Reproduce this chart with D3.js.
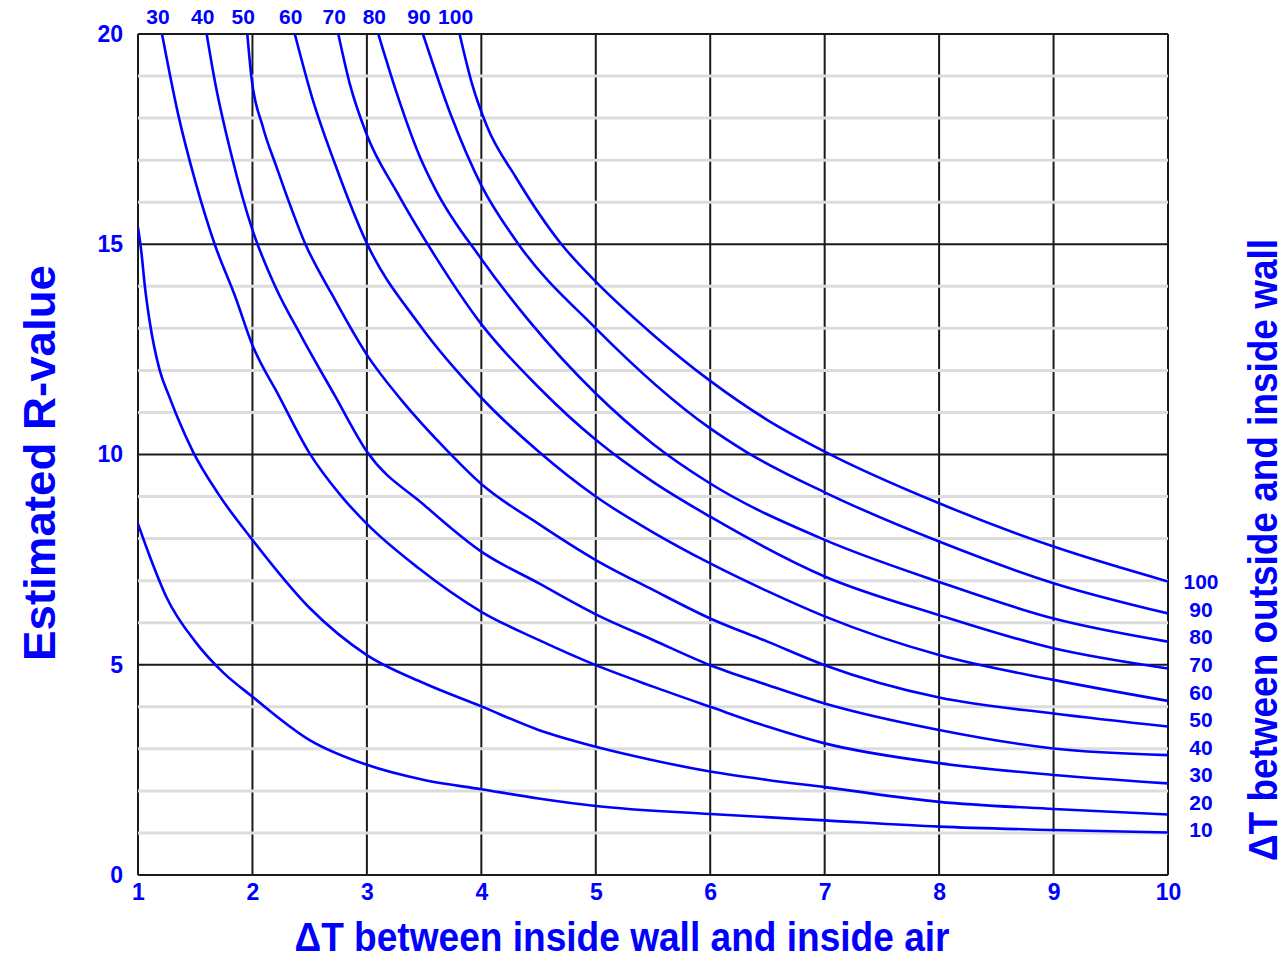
<!DOCTYPE html>
<html>
<head>
<meta charset="utf-8">
<script src="https://cdn.jsdelivr.net/npm/d3@7"></script>
<style>
  body { margin: 0; background: #fff; }
  svg text { font-family: "Liberation Sans", Arial, sans-serif; font-weight: bold; fill: #0000ff; }
</style>
</head>
<body>
<svg id="chart" width="1287" height="961"></svg>
<script>
// axis ticks
const xTicks = [1, 2, 3, 4, 5, 6, 7, 8, 9, 10];
const yTicks = [0, 5, 10, 15, 20];

// ΔT between outside and inside wall, one curve each
const curveLabels = [10, 20, 30, 40, 50, 60, 70, 80, 90, 100];

// [ΔT inside wall/air, estimated R-value]
const r10 = [[1, 8.35], [1.1, 7.6], [1.25, 6.6], [1.5, 5.55], [1.75, 4.8], [2, 4.24], [2.5, 3.21], [3, 2.62], [3.5, 2.26], [4, 2.04], [4.5, 1.82], [5, 1.64], [6, 1.45], [7, 1.3], [8, 1.15], [9, 1.07], [10, 1.01]];
const r20 = [[1, 15.4], [1.03, 14.8], [1.06, 14.0], [1.1, 13.2], [1.19, 12.0], [1.27, 11.4], [1.35, 10.85], [1.48, 10.07], [1.7, 9.07], [2, 7.97], [2.5, 6.35], [3, 5.23], [3.5, 4.56], [4, 4.01], [4.5, 3.45], [5, 3.05], [5.5, 2.73], [6, 2.46], [6.5, 2.26], [7, 2.09], [8, 1.74], [9, 1.57], [10, 1.44]];
const r30 = [[1.21, 20], [1.35, 18.1], [1.5, 16.5], [1.67, 15.0], [1.85, 13.75], [2, 12.6], [2.23, 11.4], [2.49, 10.07], [2.78, 9.0], [3, 8.35], [3.45, 7.3], [4, 6.26], [4.5, 5.59], [5, 4.99], [5.5, 4.48], [6, 4.0], [6.5, 3.53], [7, 3.13], [8, 2.66], [9, 2.38], [10, 2.18]];
const r40 = [[1.6, 20], [1.67, 18.9], [1.82, 17.08], [2, 15.34], [2.2, 13.99], [2.43, 12.8], [2.72, 11.4], [3, 10.07], [3.5, 8.8], [4, 7.69], [4.5, 6.94], [5, 6.2], [5.5, 5.59], [6, 4.99], [6.5, 4.52], [7, 4.08], [8, 3.45], [9, 3.01], [10, 2.85]];
const r50 = [[1.955, 20], [1.99, 19.0], [2.09, 17.8], [2.21, 16.84], [2.28, 16.3], [2.46, 15.02], [2.69, 13.83], [3, 12.37], [3.3, 11.3], [3.71, 10.07], [4, 9.3], [4.5, 8.35], [5, 7.49], [5.5, 6.78], [6, 6.1], [6.5, 5.55], [7, 4.99], [8, 4.22], [9, 3.84], [10, 3.53]];
const r60 = [[2.37, 20], [2.52, 18.5], [2.72, 16.92], [3, 15.02], [3.45, 13.12], [4, 11.35], [4.5, 10.07], [5, 9.0], [5.5, 8.15], [6, 7.41], [6.5, 6.75], [7, 6.15], [8, 5.23], [9, 4.64], [10, 4.14]];
const r70 = [[2.75, 20], [2.85, 18.82], [3, 17.6], [3.26, 16.25], [3.6, 14.7], [4, 13.1], [4.5, 11.6], [5, 10.35], [5.5, 9.35], [6, 8.52], [7, 7.1], [8, 6.18], [9, 5.39], [10, 4.91]];
const r80 = [[3.1, 20], [3.26, 18.6], [3.46, 17.1], [3.6, 16.3], [4, 14.65], [4.41, 13.2], [5, 11.45], [5.5, 10.25], [6, 9.31], [7, 7.97], [8, 6.97], [9, 6.1], [10, 5.55]];
const r90 = [[3.49, 20], [3.74, 18.03], [4, 16.4], [4.32, 15.02], [5, 13.0], [6, 10.62], [6.31, 10.07], [7, 9.1], [8, 7.93], [9, 6.94], [10, 6.22]];
const r100 = [[3.81, 20], [3.92, 18.8], [4.05, 17.8], [4.3, 16.6], [4.7, 15.0], [5, 14.11], [5.5, 12.85], [6, 11.75], [6.5, 10.82], [7, 10.07], [8, 8.84], [9, 7.81], [10, 6.98]];

const series = [r10, r20, r30, r40, r50, r60, r70, r80, r90, r100];

const margin = { top: 34, right: 119, bottom: 86, left: 138 };
const width = 1287, height = 961;
const svg = d3.select("#chart");

const x = d3.scaleLinear().domain([1, 10]).range([margin.left, width - margin.right]);
const y = d3.scaleLinear().domain([0, 20]).range([height - margin.bottom, margin.top]);

svg.append("defs").append("clipPath").attr("id", "plot")
  .append("rect")
  .attr("x", x(1)).attr("y", y(20))
  .attr("width", x(10) - x(1)).attr("height", y(0) - y(20));

// vertical grid
svg.append("g").selectAll("line").data(xTicks).join("line")
  .attr("x1", d => x(d)).attr("x2", d => x(d))
  .attr("y1", y(0)).attr("y2", y(20))
  .attr("stroke", "#1a1a1a").attr("stroke-width", 2);

// light gray lines every unit
const minor = d3.range(1, 20).filter(v => v % 5 !== 0);
svg.append("g").selectAll("line").data(minor).join("line")
  .attr("x1", x(1)).attr("x2", x(10))
  .attr("y1", d => y(d)).attr("y2", d => y(d))
  .attr("stroke", "#dcdcdc").attr("stroke-width", 3);

// black lines every 5
svg.append("g").selectAll("line").data(yTicks).join("line")
  .attr("x1", x(1)).attr("x2", x(10))
  .attr("y1", d => y(d)).attr("y2", d => y(d))
  .attr("stroke", "#1a1a1a").attr("stroke-width", 2);

// curves
const line = d3.line()
  .x(d => x(d[0]))
  .y(d => y(d[1]))
  .curve(d3.curveMonotoneX);

svg.append("g").attr("clip-path", "url(#plot)")
  .selectAll("path").data(series).join("path")
  .attr("d", line)
  .attr("fill", "none")
  .attr("stroke", "#0000ff")
  .attr("stroke-width", 2.6);

// axes
const xAxis = svg.append("g")
  .attr("transform", `translate(0,${y(0)})`)
  .call(d3.axisBottom(x).tickValues(xTicks).tickSize(0).tickPadding(9));
xAxis.select(".domain").remove();
xAxis.selectAll("text").attr("font-size", 23).attr("fill", "#0000ff")
  .style("font-family", "'Liberation Sans', Arial, sans-serif");

const yAxis = svg.append("g")
  .attr("transform", `translate(${x(1)},0)`)
  .call(d3.axisLeft(y).tickValues(yTicks).tickSize(0).tickPadding(15));
yAxis.select(".domain").remove();
yAxis.selectAll("text").attr("font-size", 23).attr("fill", "#0000ff")
  .style("font-family", "'Liberation Sans', Arial, sans-serif");

// labels along the top, where each curve leaves the plot
svg.append("g").selectAll("text")
  .data(series.map((s, i) => ({ s, label: curveLabels[i] })).filter(d => d.s[0][1] === 20))
  .join("text")
  .attr("x", d => x(d.s[0][0]) - 4)
  .attr("y", y(20) - 17)
  .attr("dy", "0.35em")
  .attr("text-anchor", "middle")
  .attr("font-size", 21)
  .text(d => d.label);

// labels down the right side
const rightPos = d3.scalePoint()
  .domain(curveLabels.slice().reverse())
  .range([y(6.97), y(1.07)]);

svg.append("g").selectAll("text").data(curveLabels).join("text")
  .attr("x", x(10) + 33)
  .attr("y", d => rightPos(d))
  .attr("dy", "0.35em")
  .attr("text-anchor", "middle")
  .attr("font-size", 21)
  .text(d => d);

// titles
svg.append("text")
  .attr("x", 622).attr("y", 951)
  .attr("text-anchor", "middle")
  .attr("font-size", 40)
  .attr("textLength", 655).attr("lengthAdjust", "spacingAndGlyphs")
  .text("ΔT between inside wall and inside air");

svg.append("text")
  .attr("transform", "translate(55,463) rotate(-90)")
  .attr("text-anchor", "middle")
  .attr("font-size", 44)
  .attr("textLength", 396).attr("lengthAdjust", "spacingAndGlyphs")
  .text("Estimated R-value");

svg.append("text")
  .attr("transform", "translate(1277,550) rotate(-90)")
  .attr("text-anchor", "middle")
  .attr("font-size", 40)
  .attr("textLength", 622).attr("lengthAdjust", "spacingAndGlyphs")
  .text("ΔT between outside and inside wall");
</script>
</body>
</html>
